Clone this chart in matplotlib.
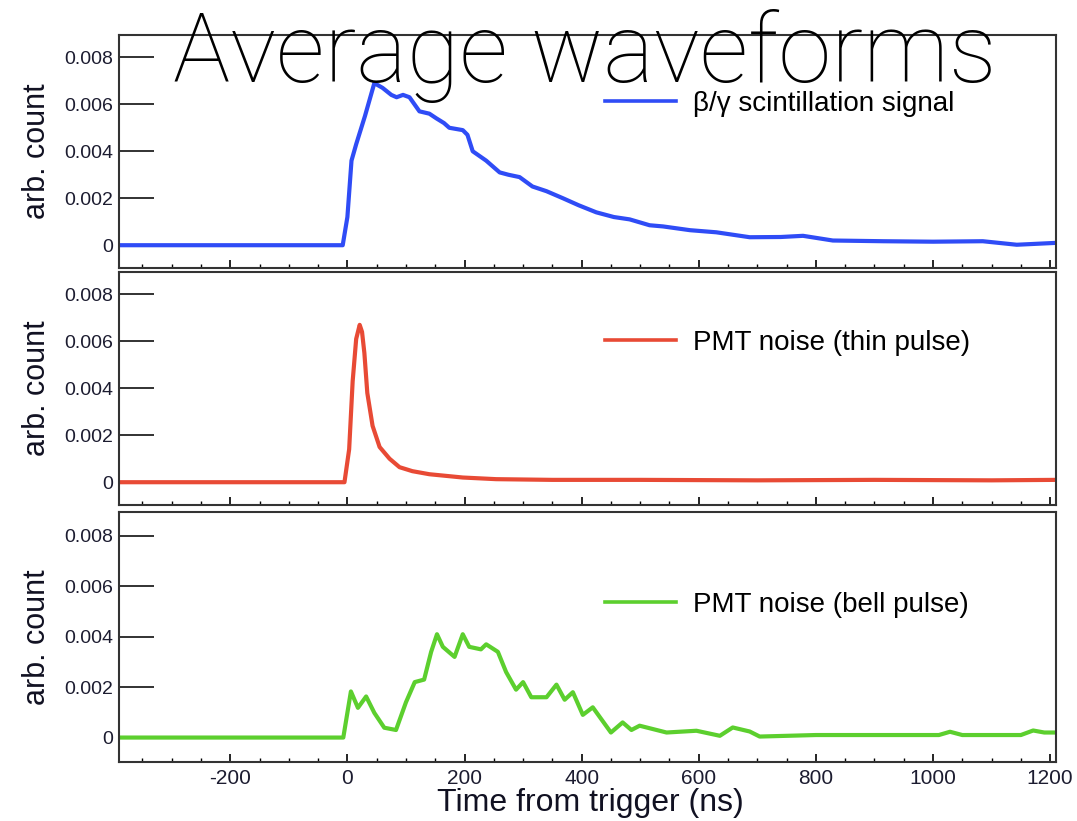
import numpy as np
import matplotlib
matplotlib.use('Agg')
import matplotlib.pyplot as plt
from matplotlib.ticker import MultipleLocator, FuncFormatter

plt.rcParams['font.family'] = ['Liberation Sans', 'DejaVu Sans']
plt.rcParams['axes.unicode_minus'] = False

# waveform samples (time in ns, amplitude in arb. count)
blue_t = [-390, -8, 0, 7, 15, 30, 46, 60, 75, 84, 95, 106, 123, 140, 152, 165, 174, 197, 205, 214,
          237, 260, 275, 294, 316, 340, 368, 395, 425, 455, 482, 516, 539, 585, 630, 687, 740, 778,
          829, 915, 1000, 1085, 1143, 1210]
blue_v = [0, 0, 0.0012, 0.0036, 0.0043, 0.0055, 0.0069, 0.0067, 0.0064, 0.0063, 0.0064, 0.0063, 0.0057,
          0.0056, 0.0054, 0.0052, 0.0050, 0.0049, 0.0047, 0.0040, 0.0036, 0.0031, 0.0030, 0.0029, 0.0025,
          0.0023, 0.0020, 0.0017, 0.0014, 0.0012, 0.0011, 0.00085, 0.0008, 0.00064, 0.00055, 0.00034,
          0.00035, 0.0004, 0.0002, 0.00017, 0.00015, 0.00017, 0.00002, 0.0001]

red_t = [-390, -5, 3, 9, 15, 21, 25, 29, 34, 43, 55, 72, 89, 111, 140, 197, 254, 350, 500, 700, 900,
         1100, 1210]
red_v = [0, 0, 0.0014, 0.0043, 0.0061, 0.0067, 0.0064, 0.0055, 0.0038, 0.0024, 0.0015, 0.0010, 0.00064,
         0.00047, 0.00034, 0.0002, 0.00013, 0.0001, 0.0001, 0.00008, 0.0001, 0.00008, 0.0001]

green_t = [-390, -7, 6, 18, 32, 46, 63, 83, 100, 115, 131, 143, 153, 163, 183, 197, 208, 228, 237, 257,
           271, 288, 300, 314, 340, 357, 371, 385, 402, 419, 450, 470, 485, 499, 545, 596, 636, 658,
           687, 704, 800, 950, 1010, 1029, 1050, 1150, 1171, 1190, 1210]
green_v = [0, 0, 0.00183, 0.00118, 0.00163, 0.00098, 0.00039, 0.0003, 0.0014, 0.0022, 0.0023, 0.0034,
           0.0041, 0.0036, 0.0032, 0.0041, 0.0036, 0.0035, 0.0037, 0.0034, 0.0026, 0.0019, 0.0022, 0.0016,
           0.0016, 0.0021, 0.0015, 0.0018, 0.0009, 0.0012, 0.0002, 0.0006, 0.0003, 0.00047, 0.0002,
           0.00027, 0.00007, 0.0004, 0.00024, 0.00004, 0.0001, 0.0001, 0.0001, 0.00023, 0.0001, 0.0001,
           0.00028, 0.0002, 0.0002]

labels = ['\u03b2/\u03b3 scintillation signal', 'PMT noise (thin pulse)', 'PMT noise (bell pulse)']
colors = ['#2f4cf6', '#e84a35', '#5ccf2e']
series = [(blue_t, blue_v), (red_t, red_v), (green_t, green_v)]

fig = plt.figure(figsize=(10.77, 8.21), dpi=100)
W, H = 1077, 821
# panel boxes in pixels: left, top, right, bottom
boxes = [(119, 35, 1056, 268), (119, 272, 1056, 505), (119, 512, 1056, 762)]
leg_y = [0.704, 0.695, 0.628]

for i, (box, (t, v)) in enumerate(zip(boxes, series)):
    l, tp, r, b = box
    ax = fig.add_axes([l / W, 1 - b / H, (r - l) / W, (b - tp) / H])
    ax.plot(t, v, color=colors[i], lw=3.0, label=labels[i])
    ax.set_xlim(-390, 1210)
    ax.set_ylim(-0.00097, 0.00895)
    ax.yaxis.set_major_locator(MultipleLocator(0.002))
    ax.yaxis.set_major_formatter(FuncFormatter(lambda y, p: '0' if abs(y) < 1e-9 else '%.3f' % y))
    ax.xaxis.set_major_locator(MultipleLocator(200))
    ax.xaxis.set_minor_locator(MultipleLocator(50))
    ax.tick_params(axis='y', direction='in', length=25, width=1.3, color='#222222',
                   labelsize=14, labelcolor='#1c1c30', pad=4)
    ax.tick_params(axis='x', which='major', direction='in', length=6, width=1.2,
                   labelsize=15, labelcolor='#1c1c30', pad=5)
    ax.tick_params(axis='x', which='minor', direction='in', length=3, width=1.0)
    if i < 2:
        ax.tick_params(axis='x', labelbottom=False)
    for s in ax.spines.values():
        s.set_linewidth(1.5)
        s.set_color('#333333')
    leg = ax.legend(loc='center left', bbox_to_anchor=(0.519, leg_y[i]), frameon=False, fontsize=20,
                    handlelength=2.55, handletextpad=0.62, borderpad=0, borderaxespad=0)
    for h in leg.get_lines():
        h.set_linewidth(2.6)
    fig.text(37 / W, 1 - ((tp + b) / 2) / H, 'arb. count', rotation=90, ha='center', va='center',
             fontsize=22, color='#111122')

fig.text(590 / W, 1 - 803 / H, 'Time from trigger (ns)', ha='center', va='center', fontsize=23,
         color='#111122')
fig.text(585 / W, 1 - 82 / H, 'Average waveforms', ha='center', va='baseline', fontsize=69,
         family=['Roboto', 'DejaVu Sans'], fontweight='light')

fig.savefig('out.png', dpi=100)
